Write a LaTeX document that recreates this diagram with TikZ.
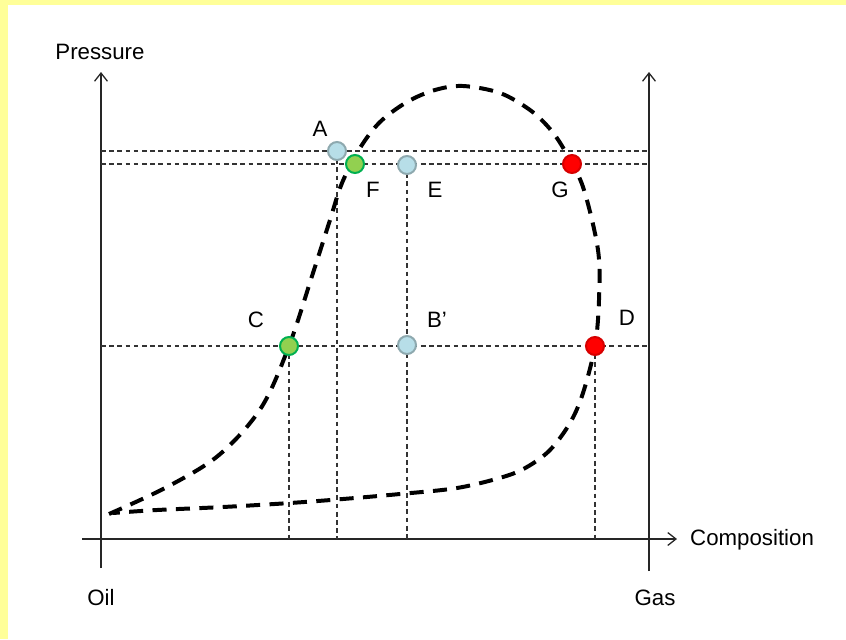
\documentclass[tikz,border=0pt]{standalone}
\usepackage{fontspec}
\setmainfont{Liberation Sans}
\usetikzlibrary{arrows.meta}

\definecolor{frameyellow}{HTML}{FFFF99}
\definecolor{liqblue}{HTML}{B7DEE8}
\definecolor{liqedge}{HTML}{8EA9AF}
\definecolor{mixgreen}{HTML}{92D050}
\definecolor{mixedge}{HTML}{00B050}
\definecolor{gasred}{HTML}{FF0000}
\definecolor{gasedge}{HTML}{D60000}

\tikzset{
  axis/.style={line width=1.1pt, black!85, -{Straight Barb[length=7pt,width=11pt]}},
  guide/.style={line width=0.9pt, black!80, dash pattern=on 4pt off 3pt},
  envelope/.style={line width=3.4pt, dash pattern=on 12pt off 8pt},
  dot/.style={circle, minimum size=5.4mm, inner sep=0pt, line width=1.7pt},
  dotblue/.style={dot, fill=liqblue, draw=liqedge},
  dotgreen/.style={dot, fill=mixgreen, draw=mixedge},
  dotred/.style={dot, fill=gasred, draw=gasedge},
  lbl/.style={font=\fontsize{19}{23}\selectfont, inner sep=0pt}
}

\begin{document}
\begin{tikzpicture}[x=0.3mm, y=-0.3mm]
        % Frame
        \fill[frameyellow] (0,0) rectangle (846,639);
        \fill[white] (8,5) rectangle (846,639);
        \useasboundingbox (0,0) rectangle (846,639);

        % Axes
        \coordinate (Obot) at (101,568);
        \coordinate (Otop) at (101,72);
        \coordinate (Gbot) at (649,571);
        \coordinate (Gtop) at (649,72);
        \coordinate (Xl) at (82,539);
        \coordinate (Xr) at (677,539);
        \draw[axis] (Obot) -- (Otop);
        \draw[axis] (Gbot) -- (Gtop);
        \draw[axis] (Xl) -- (Xr);
        \node[lbl] (pressure) at (100,52) {Pressure};
        \node[lbl, anchor=west] (composition) at (690,540) {Composition};
        \node[lbl] (oil) at (101,598) {Oil};
        \node[lbl] (gas) at (655,598) {Gas};

        % State points
        \coordinate (pA) at (337,151);
        \coordinate (pF) at (355,164);
        \coordinate (pE) at (407,165);
        \coordinate (pG) at (572,164);
        \coordinate (pC) at (289,346);
        \coordinate (pB) at (407,345);
        \coordinate (pD) at (595,346);

        % Guide lines
        \draw[guide] (Otop |- pA) -- (Gtop |- pA);
        \draw[guide] (Otop |- pF) -- (Gtop |- pF);
        \draw[guide] (Otop |- pC) -- (Gtop |- pC);
        \draw[guide] (pA) -- (pA |- Xl);
        \draw[guide] (pE) -- (pE |- Xl);
        \draw[guide] (pC) -- (pC |- Xl);
        \draw[guide] (pD) -- (pD |- Xl);

        % Phase envelope
        \draw[envelope] plot[smooth, tension=0.55] coordinates {
            (109,514) (167,487) (219,455) (261,408) (289,346) (313,273)
            (330,220) (342,183) (360,148) (380,122) (407,102) (435,90)
            (463,86) (500,93) (530,110) (550,129) (565,151) (583,187)
            (598,250) (599,300) (595,346) (583,393) (570,423) (550,450)
            (527,467) (503,477) (457,488) (400,494) (343,499) (290,503)
            (223,507) (157,510) (113,513)};

        % Points and labels
        \node[dotblue] (A) at (pA) {};
        \node[dotgreen] (F) at (pF) {};
        \node[dotblue] (E) at (pE) {};
        \node[dotred] (G) at (pG) {};
        \node[dotgreen] (C) at (pC) {};
        \node[dotblue] (B) at (pB) {};
        \node[dotred] (D) at (pD) {};
        \node[lbl] (lA) at (320,129) {A};
        \node[lbl] (lF) at (373,190) {F};
        \node[lbl] (lE) at (435,190) {E};
        \node[lbl] (lG) at (560,190) {G};
        \node[lbl] (lC) at (256,320) {C};
        \node[lbl] (lB) at (437,320) {B’};
        \node[lbl] (lD) at (627,318) {D};
\end{tikzpicture}
\end{document}
